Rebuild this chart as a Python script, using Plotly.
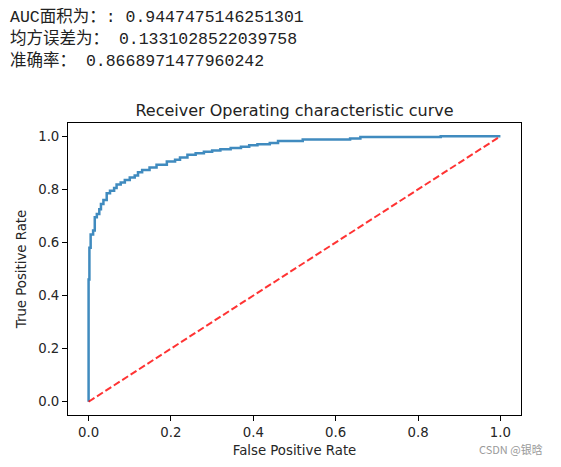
import plotly.graph_objects as go

# ROC curve points
fpr = [0, 0, 0.002, 0.002, 0.005, 0.005, 0.011, 0.011, 0.015, 0.015, 0.020, 0.020,
       0.026, 0.026, 0.030, 0.030, 0.036, 0.036, 0.044, 0.044, 0.052, 0.052,
       0.062, 0.062, 0.068, 0.068, 0.078, 0.078, 0.088, 0.088, 0.100, 0.100,
       0.112, 0.112, 0.120, 0.120, 0.130, 0.130, 0.148, 0.148, 0.165, 0.165,
       0.190, 0.190, 0.210, 0.210, 0.222, 0.222, 0.240, 0.240, 0.260, 0.260,
       0.280, 0.280, 0.300, 0.300, 0.320, 0.320, 0.345, 0.345, 0.370, 0.370,
       0.390, 0.390, 0.410, 0.410, 0.440, 0.440, 0.460, 0.460, 0.520, 0.520,
       0.635, 0.635, 0.660, 0.660, 0.855, 0.855, 1.0]
tpr = [0, 0.46, 0.46, 0.58, 0.58, 0.63, 0.63, 0.645, 0.645, 0.695, 0.695, 0.707,
       0.707, 0.725, 0.725, 0.745, 0.745, 0.760, 0.760, 0.785, 0.785, 0.795,
       0.795, 0.805, 0.805, 0.818, 0.818, 0.826, 0.826, 0.835, 0.835, 0.845,
       0.845, 0.852, 0.852, 0.864, 0.864, 0.873, 0.873, 0.882, 0.882, 0.893,
       0.893, 0.905, 0.905, 0.912, 0.912, 0.920, 0.920, 0.930, 0.930, 0.936,
       0.936, 0.942, 0.942, 0.946, 0.946, 0.951, 0.951, 0.956, 0.956, 0.961,
       0.961, 0.966, 0.966, 0.970, 0.970, 0.975, 0.975, 0.982, 0.982, 0.988,
       0.988, 0.992, 0.992, 0.997, 0.997, 1.0, 1.0]

diag_x = [0, 1]
diag_y = [0, 1]

tick_vals = [0.0, 0.2, 0.4, 0.6, 0.8, 1.0]
tick_text = ["0.0", "0.2", "0.4", "0.6", "0.8", "1.0"]

header_lines = [
    "AUC面积为：: 0.9447475146251301",
    "均方误差为： 0.1331028522039758",
    "准确率： 0.8668971477960242",
]

# page offset of the plot div (browser body margin)
OFF = 8
W, H = 561 - OFF, 467 - OFF
ML, MR, MT, MB = 68 - OFF, 40, 123 - OFF, 49
PW = W - ML - MR
PH = H - MT - MB

fig = go.Figure()
fig.add_trace(go.Scatter(x=fpr, y=tpr, mode="lines",
                         line=dict(color="#1f77b4", width=2.5),
                         opacity=0.85, showlegend=False))
fig.add_trace(go.Scatter(x=diag_x, y=diag_y, mode="lines",
                         line=dict(color="rgba(255,0,0,0.8)", width=2, dash="7px,3px"),
                         showlegend=False))

axis_font = dict(family="DejaVu Sans", size=13.3, color="#262626")
common = dict(range=[-0.05, 1.05], showgrid=False, zeroline=False,
              showline=True, linecolor="#000", linewidth=1, mirror=True,
              ticks="outside", ticklen=5, tickcolor="#000", tickwidth=1,
              tickvals=tick_vals, ticktext=tick_text, tickfont=axis_font)
fig.update_xaxes(**common, title=dict(text="False Positive Rate", font=axis_font, standoff=6))
fig.update_yaxes(**common, title=dict(text="True Positive Rate", font=axis_font, standoff=8))


def px_x(px):
    return (px - OFF - ML) / PW


def px_y(py):
    return (H - MB - (py - OFF)) / PH


annotations = []
for i, line in enumerate(header_lines):
    annotations.append(dict(
        text=line, xref="paper", yref="paper",
        x=px_x(8), y=px_y(16 + 22 * i),
        xanchor="left", yanchor="middle", showarrow=False,
        font=dict(family="Liberation Mono, Noto Sans CJK SC", size=16.5, color="#222")))
annotations.append(dict(
    text="CSDN @银晗", xref="paper", yref="paper",
    x=px_x(545), y=px_y(452),
    xanchor="right", yanchor="middle", showarrow=False,
    font=dict(family="Noto Sans CJK SC", size=11, color="#9a9a9a")))

fig.update_layout(
    width=W, height=H,
    margin=dict(l=ML, r=MR, t=MT, b=MB),
    paper_bgcolor="white", plot_bgcolor="white",
    title=dict(text="Receiver Operating characteristic curve",
               font=dict(family="DejaVu Sans", size=16, color="#222"),
               x=(ML + PW / 2) / W, xanchor="center",
               y=1 - (110 - OFF) / H, yanchor="middle", yref="container"),
    annotations=annotations,
)

fig.write_html("out.html")
